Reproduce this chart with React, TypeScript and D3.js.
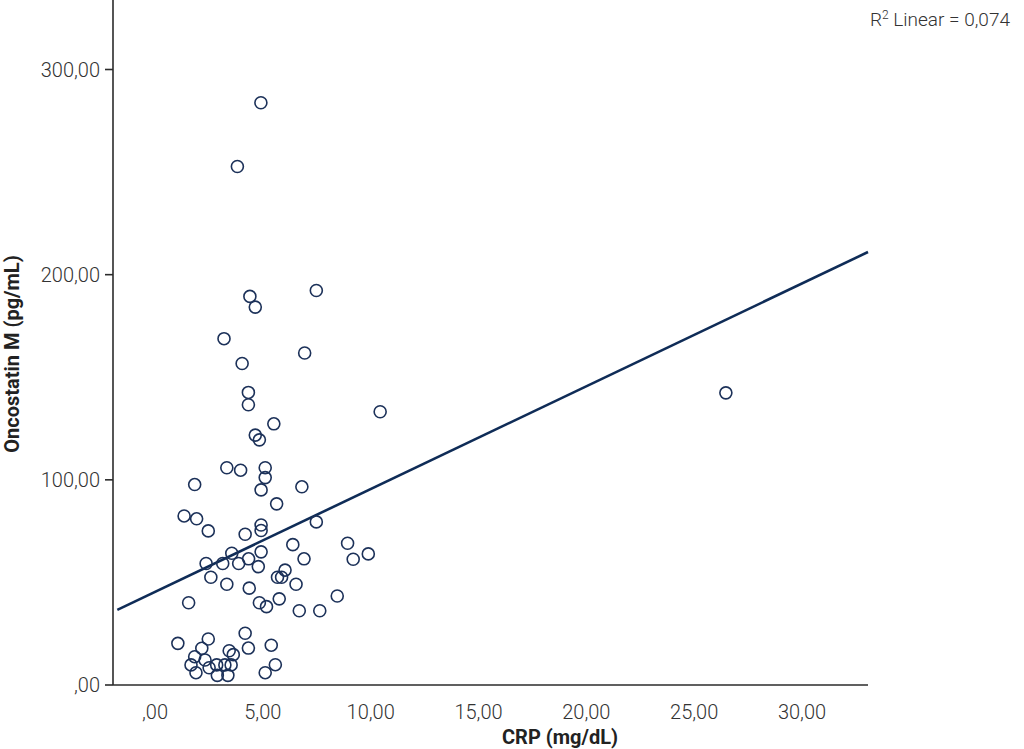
import * as d3 from "d3";
import { useEffect, useRef } from "react";

// CRP (mg/dL) per patient
const crp = [
  4.91, 3.82, 4.4, 4.65, 7.48, 3.2, 4.04, 6.94, 4.33, 4.33,
  10.44, 26.47, 5.51, 4.65, 4.84, 3.33, 3.97, 5.11, 5.11, 4.92,
  6.81, 1.84, 5.64, 1.35, 1.93, 2.47, 4.92, 4.92, 4.18, 7.48,
  6.39, 8.93, 9.89, 9.19, 6.91, 4.92, 3.56, 2.37, 3.14, 3.88,
  4.34, 4.79, 2.59, 3.33, 4.37, 5.68, 5.87, 6.03, 6.54, 1.56,
  4.84, 5.17, 5.76, 6.69, 7.64, 8.45, 4.18, 1.06, 2.47, 2.17,
  4.33, 5.39, 3.44, 3.63, 1.84, 2.32, 1.67, 2.51, 2.86, 3.24,
  3.53, 5.58, 1.9, 2.89, 3.38, 5.11,
];

// Oncostatin M (pg/mL) per patient
const osm = [
  283.8, 252.7, 189.4, 184.2, 192.3, 168.8, 156.7, 161.8, 142.6, 136.6,
  133.2, 142.4, 127.3, 121.8, 119.5, 105.9, 104.7, 105.9, 101.1, 95.1,
  96.6, 97.7, 88.3, 82.4, 81.0, 75.1, 78.0, 75.3, 73.5, 79.5,
  68.4, 69.1, 63.9, 61.3, 61.5, 64.9, 64.2, 59.2, 59.2, 59.2,
  61.5, 57.7, 52.5, 49.1, 47.2, 52.5, 52.5, 56.0, 49.1, 40.1,
  40.1, 38.2, 42.0, 36.2, 36.2, 43.4, 25.2, 20.3, 22.4, 17.9,
  18.0, 19.4, 16.7, 14.8, 13.8, 12.2, 9.8, 8.4, 9.8, 9.8,
  9.8, 9.9, 6.0, 4.7, 4.7, 6.0,
];

const xTicks = [0, 5, 10, 15, 20, 25, 30];
const yTicks = [0, 100, 200, 300];

// linear fit
const fitIntercept = 45.4;
const fitSlope = 5.01;
const r2Label = "0,074";

const fmt = (v: number) => {
  const s = v.toFixed(2).replace(".", ",");
  return s.startsWith("0,") ? s.slice(1) : s;
};

export default function App() {
  const svgRef = useRef<SVGSVGElement>(null);

  useEffect(() => {
    const w = 1024;
    const h = 749;
    const svg = d3.select(svgRef.current).attr("width", w).attr("height", h);
    svg.selectAll("*").remove();

    const left = 113;
    const right = 868;
    const bottom = 685;
    const navy = "#1c3159";
    const axisColor = "#2b2b2b";
    const font = "Roboto, 'DejaVu Sans Condensed', sans-serif";

    const x = d3.scaleLinear().domain([0, 30]).range([155, 802]);
    const y = d3.scaleLinear().domain([0, 300]).range([bottom, 69.5]);
    const xMin = x.invert(left);
    const xMax = x.invert(right);

    // regression line
    const fit = d3
      .line<number>()
      .x((d) => x(d))
      .y((d) => y(fitIntercept + fitSlope * d));
    svg
      .append("path")
      .attr("d", fit([xMin + 0.2, xMax]))
      .attr("fill", "none")
      .attr("stroke", "#0f2c57")
      .attr("stroke-width", 2.6);

    // points
    svg
      .append("g")
      .selectAll("circle")
      .data(d3.range(crp.length))
      .enter()
      .append("circle")
      .attr("cx", (i) => x(crp[i]))
      .attr("cy", (i) => y(osm[i]))
      .attr("r", 6)
      .attr("fill", "none")
      .attr("stroke", navy)
      .attr("stroke-width", 1.6);

    // axes
    svg
      .append("line")
      .attr("x1", left)
      .attr("x2", left)
      .attr("y1", 0)
      .attr("y2", bottom)
      .attr("stroke", axisColor)
      .attr("stroke-width", 1.6);
    svg
      .append("line")
      .attr("x1", left)
      .attr("x2", right)
      .attr("y1", bottom)
      .attr("y2", bottom)
      .attr("stroke", axisColor)
      .attr("stroke-width", 1.6);

    const yAxis = svg.append("g");
    yAxis
      .selectAll("line")
      .data(yTicks)
      .enter()
      .append("line")
      .attr("x1", left - 8)
      .attr("x2", left)
      .attr("y1", (d) => y(d))
      .attr("y2", (d) => y(d))
      .attr("stroke", axisColor)
      .attr("stroke-width", 1.6);
    yAxis
      .selectAll("text")
      .data(yTicks)
      .enter()
      .append("text")
      .attr("x", left - 13)
      .attr("y", (d) => y(d))
      .attr("dy", "0.35em")
      .attr("text-anchor", "end")
      .attr("font-family", font)
      .attr("font-weight", 300)
      .attr("font-size", 20)
      .attr("fill", "#333")
      .text((d) => fmt(d));

    svg
      .append("g")
      .selectAll("text")
      .data(xTicks)
      .enter()
      .append("text")
      .attr("x", (d) => x(d))
      .attr("y", 712)
      .attr("dy", "0.35em")
      .attr("text-anchor", "middle")
      .attr("font-family", font)
      .attr("font-weight", 300)
      .attr("font-size", 20)
      .attr("fill", "#333")
      .text((d) => fmt(d));

    svg
      .append("text")
      .attr("x", 560)
      .attr("y", 737)
      .attr("dy", "0.35em")
      .attr("text-anchor", "middle")
      .attr("font-family", font)
      .attr("font-weight", "bold")
      .attr("font-size", 20)
      .attr("fill", "#222")
      .text("CRP (mg/dL)");

    svg
      .append("text")
      .attr("transform", "translate(12,354) rotate(-90)")
      .attr("dy", "0.35em")
      .attr("text-anchor", "middle")
      .attr("font-family", font)
      .attr("font-weight", "bold")
      .attr("font-size", 20)
      .attr("fill", "#222")
      .text("Oncostatin M (pg/mL)");

    const r2 = svg
      .append("text")
      .attr("x", 1010)
      .attr("y", 26)
      .attr("text-anchor", "end")
      .attr("font-family", font)
      .attr("font-weight", 300)
      .attr("font-size", 19)
      .attr("fill", "#333");
    r2.append("tspan").text("R");
    r2.append("tspan").attr("font-size", 12).attr("dy", -7).text("2");
    r2.append("tspan").attr("dy", 7).text(` Linear = ${r2Label}`);
  }, []);

  return (
    <div style={{ position: "absolute", left: 0, top: 0, background: "#fff" }}>
      <svg ref={svgRef}></svg>
    </div>
  );
}
